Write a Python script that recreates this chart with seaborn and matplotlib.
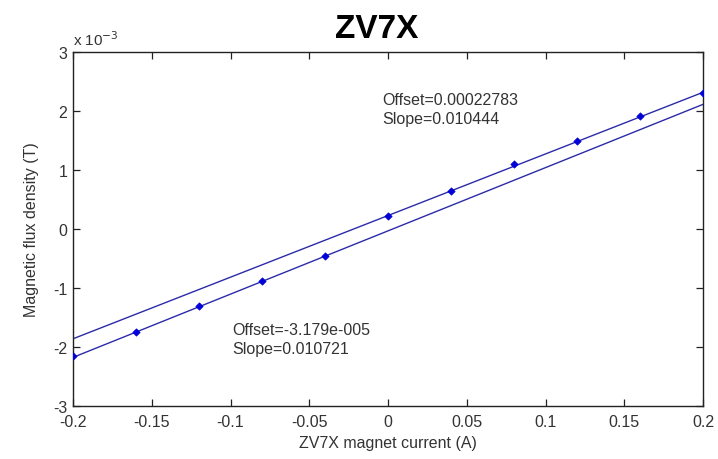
import numpy as np
import pandas as pd
import matplotlib
matplotlib.use("Agg")
import matplotlib.pyplot as plt
import seaborn as sns
from matplotlib.ticker import FuncFormatter, MultipleLocator

# ---- data ----
current_a = [-0.2, -0.16, -0.12, -0.08, -0.04]
flux_a = [-2.15e-3, -1.75e-3, -1.31e-3, -0.88e-3, -0.45e-3]
current_b = [0.0, 0.04, 0.08, 0.12, 0.16, 0.2]
flux_b = [0.22e-3, 0.65e-3, 1.10e-3, 1.50e-3, 1.92e-3, 2.30e-3]

fit_offsets = [0.00022783, -3.179e-005]
fit_slopes = [0.010444, 0.010721]
fit_labels = ["Offset=0.00022783\nSlope=0.010444", "Offset=-3.179e-005\nSlope=0.010721"]
x_range = [-0.2, 0.2]

title = "ZV7X"
xlabel = "ZV7X magnet current (A)"
ylabel = "Magnetic flux density (T)"

sns.set_theme(style="white")
plt.rcParams["font.family"] = ["Liberation Sans", "DejaVu Sans"]

fig = plt.figure(figsize=(7.18, 4.60), dpi=100)
ax = fig.add_axes([73 / 718, 1 - 407 / 460, 630 / 718, 354 / 460])

line_color = "#2b2ba8"
pt_color = "#0000d8"

# fitted lines
rows = []
for i, (o, s) in enumerate(zip(fit_offsets, fit_slopes)):
    for xv in x_range:
        rows.append({"x": xv, "y": o + s * xv, "fit": i})
fit_df = pd.DataFrame(rows)
sns.lineplot(data=fit_df, x="x", y="y", units="fit", estimator=None,
             color=line_color, linewidth=1.0, ax=ax, legend=False)

# measured points
pts = pd.DataFrame({"x": current_a + current_b, "y": flux_a + flux_b})
sns.scatterplot(data=pts, x="x", y="y", color=pt_color, marker="D", s=14,
                edgecolor=pt_color, linewidth=0.5, ax=ax, zorder=3)

ax.set_xlim(-0.2, 0.2)
ax.set_ylim(-3e-3, 3e-3)
ax.xaxis.set_major_locator(MultipleLocator(0.05))
ax.yaxis.set_major_locator(MultipleLocator(1e-3))
ax.yaxis.set_major_formatter(FuncFormatter(lambda v, p: f"{v*1e3:g}"))
ax.xaxis.set_major_formatter(FuncFormatter(lambda v, p: f"{v:g}"))

for sp in ax.spines.values():
    sp.set_visible(True)
    sp.set_color("#222222")
    sp.set_linewidth(1.0)
ax.tick_params(direction="in", length=5, width=0.9, top=True, right=True,
               bottom=True, left=True, labelsize=11.5, colors="#222222",
               labelcolor="#333333")
ax.tick_params(axis="x", pad=6)
ax.tick_params(axis="y", pad=4)

ax.set_xlabel(xlabel, fontsize=11.5, color="#333333", labelpad=4)
ax.set_ylabel(ylabel, fontsize=11.5, color="#333333", labelpad=10)

ax.text(0.0, 1.012, "x 10$^{-3}$", transform=ax.transAxes, fontsize=11,
        color="#333333", ha="left", va="bottom")

fig.text(377 / 718, 1 - 30 / 460, title, fontsize=24, fontweight="bold",
         ha="center", va="center", color="black")

ax.text(-0.0035, 2.32e-3, fit_labels[0], fontsize=11.5, color="#333333",
        ha="left", va="top", linespacing=1.3)
ax.text(-0.099, -1.58e-3, fit_labels[1], fontsize=11.5, color="#333333",
        ha="left", va="top", linespacing=1.3)

fig.savefig("out.png", dpi=100)
